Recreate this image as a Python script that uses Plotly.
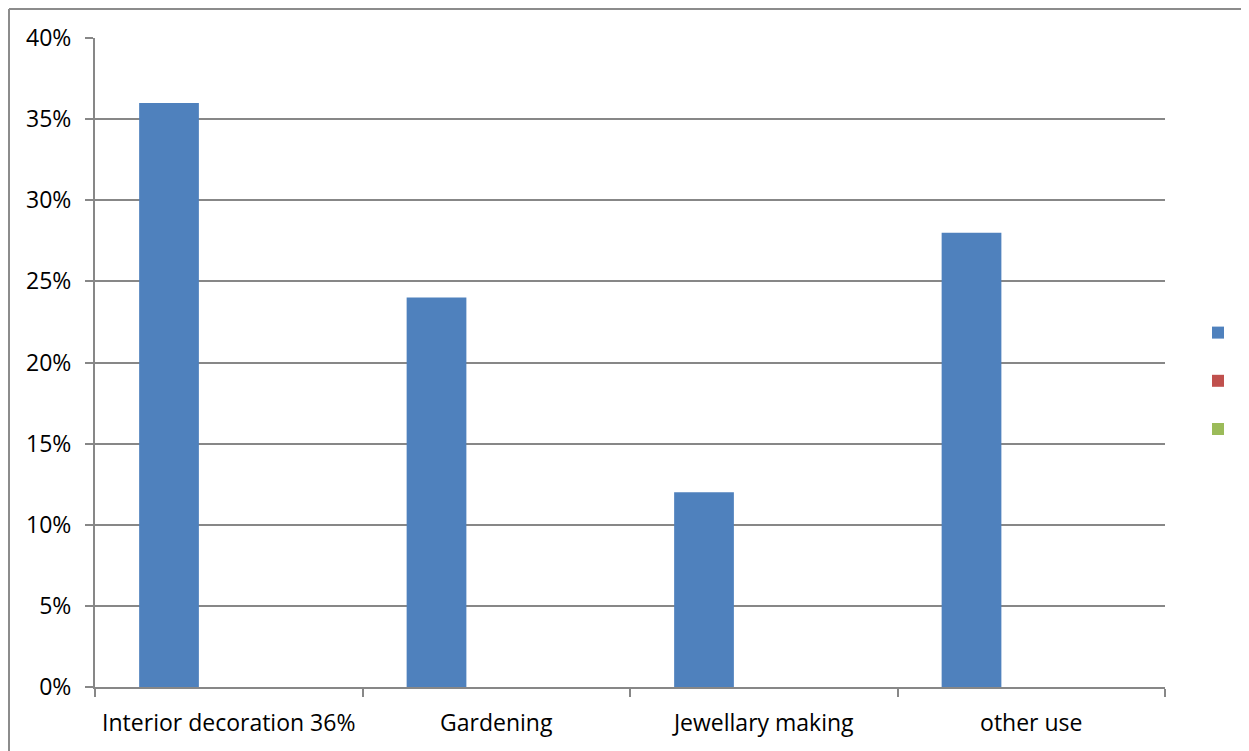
import plotly.graph_objects as go

categories = ["Interior decoration 36%", "Gardening", "Jewellary making", "other use"]
series1 = [0.36, 0.24, 0.12, 0.28]
series2 = [0, 0, 0, 0]
series3 = [0, 0, 0, 0]
y_ticks = [0, 0.05, 0.10, 0.15, 0.20, 0.25, 0.30, 0.35, 0.40]

# the page body has an 8px margin: the figure starts at page pixel (8, 8)
OFF = 8
W, H = 1249 - OFF, 751 - OFF
L = 95 - OFF
T = 38 - OFF
R = (W + OFF) - 1165
B = (H + OFF) - 687
pw, ph = W - L - R, H - T - B

def px_x(p):  # page pixel -> paper x
    return (p - OFF - L) / pw

def px_y(p):  # page pixel -> paper y
    return 1 - (p - OFF - T) / ph

def cx(p):  # page pixel -> container x
    return (p - OFF) / W

def cy(p):  # page pixel -> container y
    return 1 - (p - OFF) / H

fig = go.Figure()
colors = ["#4F81BD", "#C0504D", "#9BBB59"]
for i, (vals, c) in enumerate(zip([series1, series2, series3], colors)):
    fig.add_trace(go.Bar(
        x=categories, y=vals, name=" ", marker=dict(color=c, line=dict(width=0)),
        legendgroup=f"g{i}", showlegend=True,
    ))

grid = "#878787"
fig.update_layout(
    width=W, height=H, autosize=False,
    margin=dict(l=L, r=R, t=T, b=B),
    paper_bgcolor="white", plot_bgcolor="white",
    barmode="group", bargap=0.33, bargroupgap=0,
    font=dict(family="'Open Sans', sans-serif", size=23, color="black"),
    legend=dict(xref="container", yref="container",
                x=cx(1198), y=cy(317), xanchor="left", yanchor="top",
                font=dict(size=14), tracegroupgap=27, bgcolor="rgba(0,0,0,0)",
                itemwidth=30),
    xaxis=dict(
        showline=True, linecolor=grid, linewidth=2, tickangle=0, automargin=False,
        ticks="outside", tickson="boundaries", ticklen=8, tickwidth=2, tickcolor=grid,
        showgrid=False, zeroline=False, ticklabelstandoff=14,
    ),
    yaxis=dict(
        range=[0, 0.4], tickvals=y_ticks, tickformat=".0%", automargin=False,
        showgrid=True, gridcolor=grid, gridwidth=2,
        showline=True, linecolor=grid, linewidth=2,
        ticks="outside", ticklen=8, tickwidth=2, tickcolor=grid,
        zeroline=False, ticklabelstandoff=9,
    ),
)

# outer chart-area border (top and left edges visible)
fig.add_shape(type="line", xref="paper", yref="paper",
              x0=px_x(9), x1=px_x(1249), y0=px_y(9), y1=px_y(9),
              line=dict(color="#8c8c8c", width=2))
fig.add_shape(type="line", xref="paper", yref="paper",
              x0=px_x(9), x1=px_x(9), y0=px_y(9), y1=px_y(751),
              line=dict(color="#8c8c8c", width=2))

fig.write_html("out.html", config={"displayModeBar": False, "responsive": False})
